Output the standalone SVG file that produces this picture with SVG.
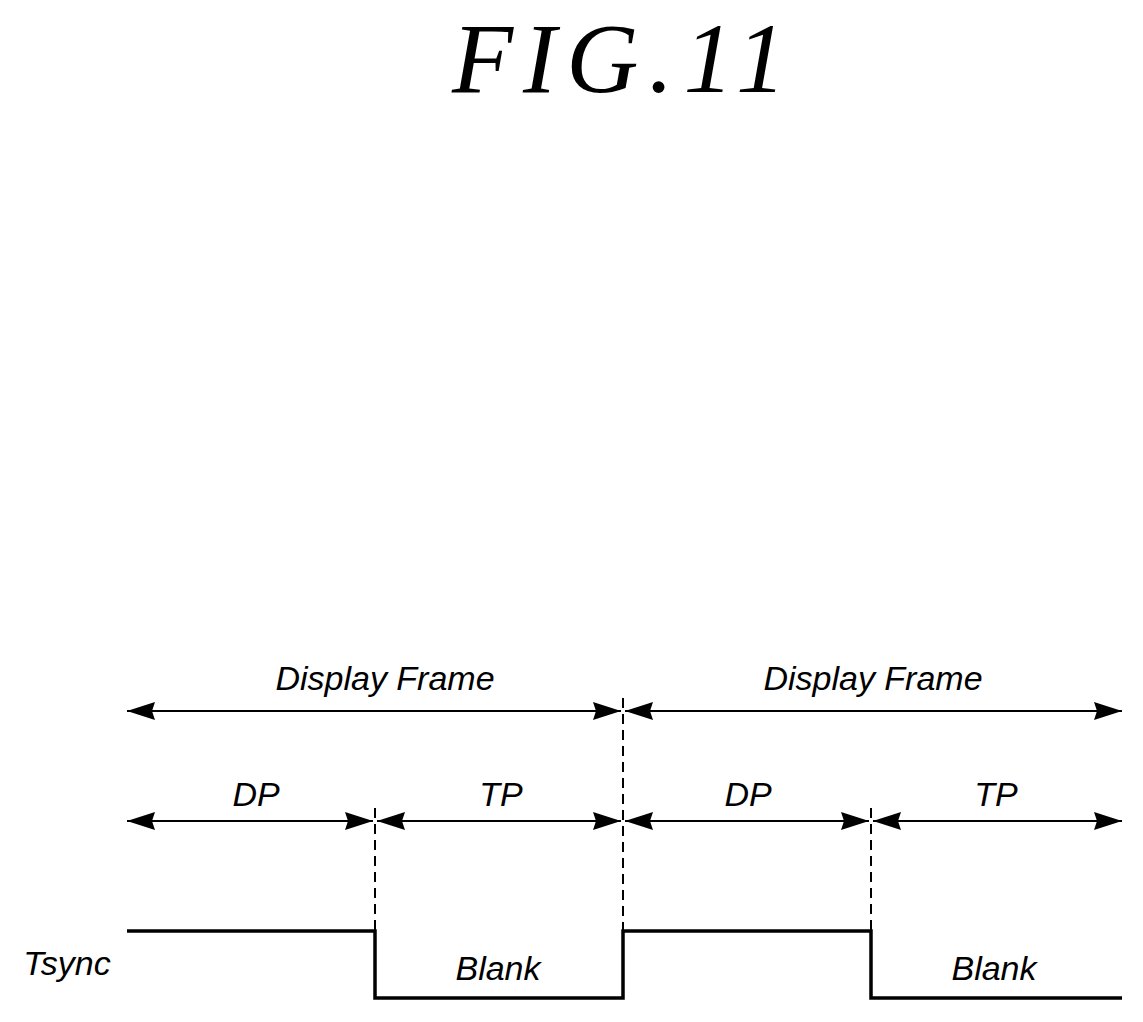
<svg xmlns="http://www.w3.org/2000/svg" width="1143" height="1022" viewBox="0 0 1143 1022">
<style>
.t{font-family:"Liberation Sans",Arial,sans-serif;font-style:italic;font-size:34px;fill:#000;text-anchor:middle}
.a{stroke:#000;stroke-width:2;fill:none;marker-start:url(#ms);marker-end:url(#me)}
.d{stroke:#000;stroke-width:2;stroke-dasharray:10,6;fill:none}
</style>
<defs>
<marker id="me" markerUnits="userSpaceOnUse" markerWidth="30" markerHeight="20" refX="28" refY="9" orient="auto"><path d="M0,0 L28,9 L0,18 L3,9 Z" fill="#000"/></marker>
<marker id="ms" markerUnits="userSpaceOnUse" markerWidth="30" markerHeight="20" refX="0" refY="9" orient="auto"><path d="M28,0 L0,9 L28,18 L25,9 Z" fill="#000"/></marker>
</defs>
<rect width="1143" height="1022" fill="#fff"/>
<text x="624" y="92" font-family="Liberation Serif,serif" font-style="italic" font-size="100" letter-spacing="10" text-anchor="middle">FIG.11</text>
<g id="connectors">
<line class="d" x1="375" y1="808" x2="375" y2="931"/>
<line class="d" x1="623" y1="698" x2="623" y2="931"/>
<line class="d" x1="871" y1="808" x2="871" y2="931"/>
<line class="a" x1="127" y1="711" x2="621" y2="711"/>
<line class="a" x1="625" y1="711" x2="1122" y2="711"/>
<line class="a" x1="127" y1="821" x2="373" y2="821"/>
<line class="a" x1="377" y1="821" x2="621" y2="821"/>
<line class="a" x1="625" y1="821" x2="869" y2="821"/>
<line class="a" x1="873" y1="821" x2="1122" y2="821"/>
</g>
<g id="tsync">
<path d="M127,931 H375 V998 H623 V931 H871 V998 H1122" stroke="#000" stroke-width="3.5" fill="none"/>
<text class="t" x="67" y="975">Tsync</text>
<text class="t" x="498" y="980">Blank</text>
<text class="t" x="994" y="980">Blank</text>
</g>
<g id="labels">
<text class="t" x="385" y="690">Display Frame</text>
<text class="t" x="873" y="690">Display Frame</text>
<text class="t" x="256" y="806">DP</text>
<text class="t" x="501" y="806">TP</text>
<text class="t" x="748" y="806">DP</text>
<text class="t" x="996" y="806">TP</text>
</g>
</svg>
